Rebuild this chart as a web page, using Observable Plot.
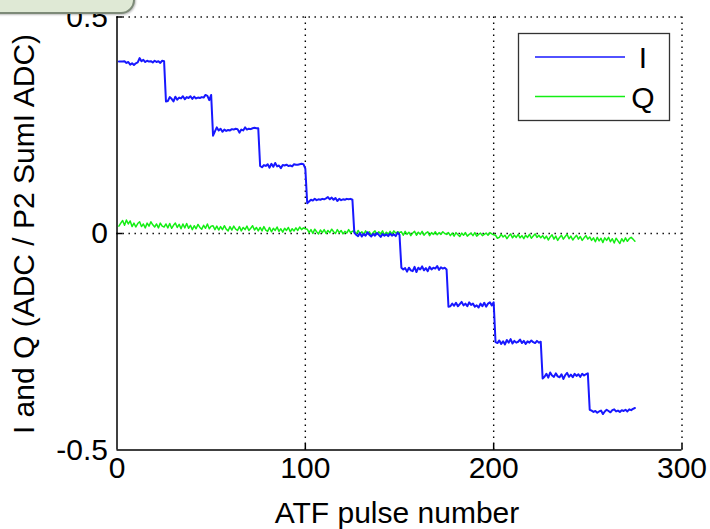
<!DOCTYPE html>
<html>
<head>
<meta charset="utf-8">
<script src="https://cdn.jsdelivr.net/npm/d3@7"></script>
<script src="https://cdn.jsdelivr.net/npm/@observablehq/plot@0.6"></script>
<style>
  html, body { margin: 0; padding: 0; background: #fff; }
  #wrap { position: relative; width: 710px; height: 529px; overflow: hidden; }
  #tab { position: absolute; left: -4px; top: -4px; width: 135px; height: 14px;
         background: #dfe9d5; border: 2px solid #7d8a78; border-radius: 0 0 14px 0;
         box-shadow: 1px 1px 2px rgba(0,0,0,0.25); z-index: 2; }
  svg { display: block; }
</style>
</head>
<body>
<div id="wrap"><div id="tab"></div></div>
<script>
// ---- data ----
const xTicks = [0, 100, 200, 300];
const yTicks = [-0.5, 0, 0.5];
const xGrid = [100, 200, 300];
const yGrid = [0, 0.5];
const seriesNames = ["I", "Q"];

const iValues = [
  0.397,0.397,0.397,0.398,0.394,0.396,0.390,0.393,0.389,0.393,0.395,0.405,0.398,0.401,0.396,0.399,0.397,0.398,0.395,0.399,0.396,0.398,0.394,0.399,0.398,
  0.305,0.306,0.315,0.311,0.305,0.316,0.309,0.314,0.312,0.317,0.310,0.315,0.313,0.317,0.311,0.316,0.312,0.314,0.313,0.315,0.314,0.320,0.318,0.308,0.320,
  0.226,0.236,0.245,0.238,0.242,0.235,0.240,0.237,0.239,0.238,0.241,0.240,0.242,0.241,0.233,0.240,0.238,0.245,0.240,0.242,0.241,0.243,0.244,0.243,0.243,
  0.156,0.153,0.158,0.156,0.160,0.152,0.161,0.154,0.163,0.155,0.157,0.151,0.158,0.157,0.159,0.156,0.157,0.155,0.160,0.159,0.159,0.160,0.161,0.160,0.150,
  0.070,0.074,0.078,0.076,0.080,0.077,0.079,0.078,0.080,0.079,0.081,0.084,0.079,0.083,0.078,0.082,0.075,0.080,0.077,0.079,0.078,0.080,0.079,0.080,0.078,
  0.002,-0.003,-0.006,0.001,-0.007,-0.001,-0.005,0.003,-0.003,-0.007,-0.001,-0.005,0.001,-0.003,-0.008,-0.001,-0.005,-0.002,-0.006,0.000,-0.005,-0.002,-0.006,0.002,-0.003,
  -0.079,-0.083,-0.080,-0.088,-0.079,-0.085,-0.087,-0.077,-0.089,-0.079,-0.083,-0.076,-0.085,-0.080,-0.087,-0.077,-0.083,-0.079,-0.081,-0.075,-0.084,-0.078,-0.081,-0.079,-0.083,
  -0.169,-0.168,-0.162,-0.167,-0.160,-0.168,-0.163,-0.158,-0.166,-0.162,-0.168,-0.159,-0.165,-0.162,-0.169,-0.166,-0.171,-0.162,-0.168,-0.160,-0.169,-0.162,-0.159,-0.166,-0.159,
  -0.251,-0.253,-0.247,-0.255,-0.249,-0.256,-0.246,-0.252,-0.244,-0.254,-0.248,-0.252,-0.250,-0.245,-0.253,-0.248,-0.255,-0.249,-0.252,-0.247,-0.251,-0.253,-0.248,-0.252,-0.250,
  -0.335,-0.331,-0.324,-0.333,-0.321,-0.328,-0.331,-0.323,-0.330,-0.332,-0.325,-0.336,-0.327,-0.322,-0.331,-0.326,-0.332,-0.324,-0.329,-0.325,-0.331,-0.324,-0.328,-0.325,-0.323,
  -0.407,-0.409,-0.412,-0.410,-0.414,-0.411,-0.409,-0.417,-0.411,-0.407,-0.410,-0.413,-0.408,-0.406,-0.411,-0.409,-0.412,-0.408,-0.410,-0.407,-0.411,-0.406,-0.408,-0.405,-0.403
];

const qValues = [
  0.017,0.024,0.030,0.019,0.031,0.022,0.029,0.016,0.024,0.015,0.023,0.027,0.016,0.022,0.013,0.024,0.017,0.027,0.020,0.015,0.022,0.013,0.024,0.017,0.015,
  0.022,0.013,0.023,0.012,0.019,0.024,0.014,0.021,0.011,0.022,0.013,0.023,0.012,0.019,0.009,0.018,0.011,0.021,0.014,0.010,0.019,0.012,0.022,0.011,0.017,
  0.018,0.009,0.017,0.008,0.016,0.009,0.018,0.010,0.006,0.016,0.008,0.017,0.010,0.007,0.016,0.006,0.014,0.009,0.017,0.007,0.012,0.018,0.008,0.014,0.006,
  0.014,0.006,0.016,0.008,0.005,0.014,0.004,0.012,0.007,0.015,0.005,0.011,0.003,0.012,0.007,0.014,0.004,0.011,0.006,0.013,0.007,0.015,0.009,0.013,0.011,
  0.010,0.002,0.009,0.000,0.010,0.004,-0.001,0.008,0.002,0.009,0.000,0.007,0.002,0.010,0.004,0.000,0.009,0.002,0.007,-0.001,0.005,0.001,0.009,0.002,0.005,
  0.006,-0.002,0.007,0.000,0.004,-0.003,0.006,-0.001,0.004,-0.004,0.002,0.006,-0.002,0.004,-0.001,0.006,-0.004,0.003,-0.002,0.005,-0.001,0.006,0.001,0.004,0.002,
  0.004,-0.004,0.005,-0.002,0.003,-0.005,0.001,0.005,-0.004,0.003,-0.002,0.005,-0.004,0.001,0.004,-0.005,0.002,-0.002,0.004,-0.003,0.002,-0.002,0.004,0.000,-0.002,
  0.002,-0.005,0.001,-0.006,0.002,-0.003,-0.007,0.001,-0.004,0.002,-0.006,-0.002,0.001,-0.005,0.002,-0.006,-0.002,0.001,-0.005,-0.002,0.001,-0.004,0.002,-0.001,-0.003,
  -0.004,-0.011,-0.009,-0.002,-0.008,-0.004,-0.012,-0.006,-0.001,-0.010,-0.004,-0.009,-0.002,-0.010,-0.005,-0.012,-0.004,-0.009,-0.002,-0.011,-0.006,-0.001,-0.009,-0.004,-0.010,
  -0.005,-0.012,-0.006,-0.015,-0.008,-0.003,-0.013,-0.006,-0.016,-0.009,-0.004,-0.013,-0.007,-0.002,-0.012,-0.006,-0.015,-0.009,-0.004,-0.013,-0.007,-0.016,-0.010,-0.005,-0.013,
  -0.008,-0.016,-0.010,-0.019,-0.009,-0.017,-0.011,-0.021,-0.010,-0.016,-0.009,-0.019,-0.012,-0.022,-0.011,-0.017,-0.023,-0.012,-0.019,-0.010,-0.018,-0.012,-0.009,-0.013,-0.018
];

// ---- build table ----
const rows = [];
iValues.forEach((v, k) => rows.push({pulse: k + 1, value: v, series: "I"}));
qValues.forEach((v, k) => rows.push({pulse: k + 1, value: v, series: "Q"}));

const colors = {I: "#1818ff", Q: "#14ee14"};
const FONT = "'Liberation Sans', Arial, Helvetica, sans-serif";

const W = 710, H = 529;
const mL = 116.5, mR = 28.5, mT = 16.5, mB = 79.5;

const chart = Plot.plot({
  width: W, height: H,
  marginLeft: mL, marginRight: mR, marginTop: mT, marginBottom: mB,
  style: {fontFamily: FONT, background: "white", color: "black", overflow: "visible"},
  x: {domain: [0, 300]},
  y: {domain: [-0.5, 0.5]},
  marks: [
    Plot.ruleX(xGrid, {stroke: "black", strokeWidth: 1.4, strokeDasharray: "1.4,4.6"}),
    Plot.ruleY(yGrid, {stroke: "black", strokeWidth: 1.4, strokeDasharray: "1.4,4.6"}),
    Plot.ruleX([0], {stroke: "black", strokeWidth: 1.5}),
    Plot.ruleY([-0.5], {stroke: "black", strokeWidth: 1.5}),
    Plot.ruleX(xGrid, {y1: -0.5, y2: -0.5 + 6 / 433, stroke: "black", strokeWidth: 1.5}),
    Plot.ruleY(yGrid, {x1: 0, x2: 6 / 1.883, stroke: "black", strokeWidth: 1.5}),
    Plot.line(rows.filter(d => d.series === "Q"), {x: "pulse", y: "value", stroke: colors.Q, strokeWidth: 1.5}),
    Plot.line(rows.filter(d => d.series === "I"), {x: "pulse", y: "value", stroke: colors.I, strokeWidth: 2}),
    Plot.axisX({ticks: xTicks, tickSize: 0, tickPadding: 7, fontSize: 30, label: null, tickFormat: d => String(d)}),
    Plot.axisY({ticks: yTicks, tickSize: 0, tickPadding: 9, fontSize: 30, label: null, tickFormat: d => String(d)})
  ]
});

const svg = d3.select(chart);
// axis titles
svg.append("text")
  .attr("x", 397).attr("y", 523)
  .attr("text-anchor", "middle")
  .attr("font-family", FONT).attr("font-size", 30).attr("fill", "black")
  .text("ATF pulse number");
svg.append("text")
  .attr("transform", "translate(34,234) rotate(-90)")
  .attr("text-anchor", "middle")
  .attr("font-family", FONT).attr("font-size", 30).attr("fill", "black")
  .text("I and Q (ADC / P2 SumI ADC)");

// legend
const lg = svg.append("g");
lg.append("rect").attr("x", 518.5).attr("y", 33.5).attr("width", 151).attr("height", 87)
  .attr("fill", "white").attr("stroke", "#333").attr("stroke-width", 1.3);
seriesNames.forEach((name, k) => {
  const yy = 57 + k * 39.5;
  lg.append("line").attr("x1", 535).attr("x2", 625).attr("y1", yy).attr("y2", yy)
    .attr("stroke", colors[name]).attr("stroke-width", 1.6);
  lg.append("text").attr("x", 643).attr("y", yy + 11)
    .attr("font-family", FONT).attr("font-size", 30).attr("fill", "black")
    .text(name);
});

document.getElementById("wrap").appendChild(chart);
</script>
</body>
</html>
